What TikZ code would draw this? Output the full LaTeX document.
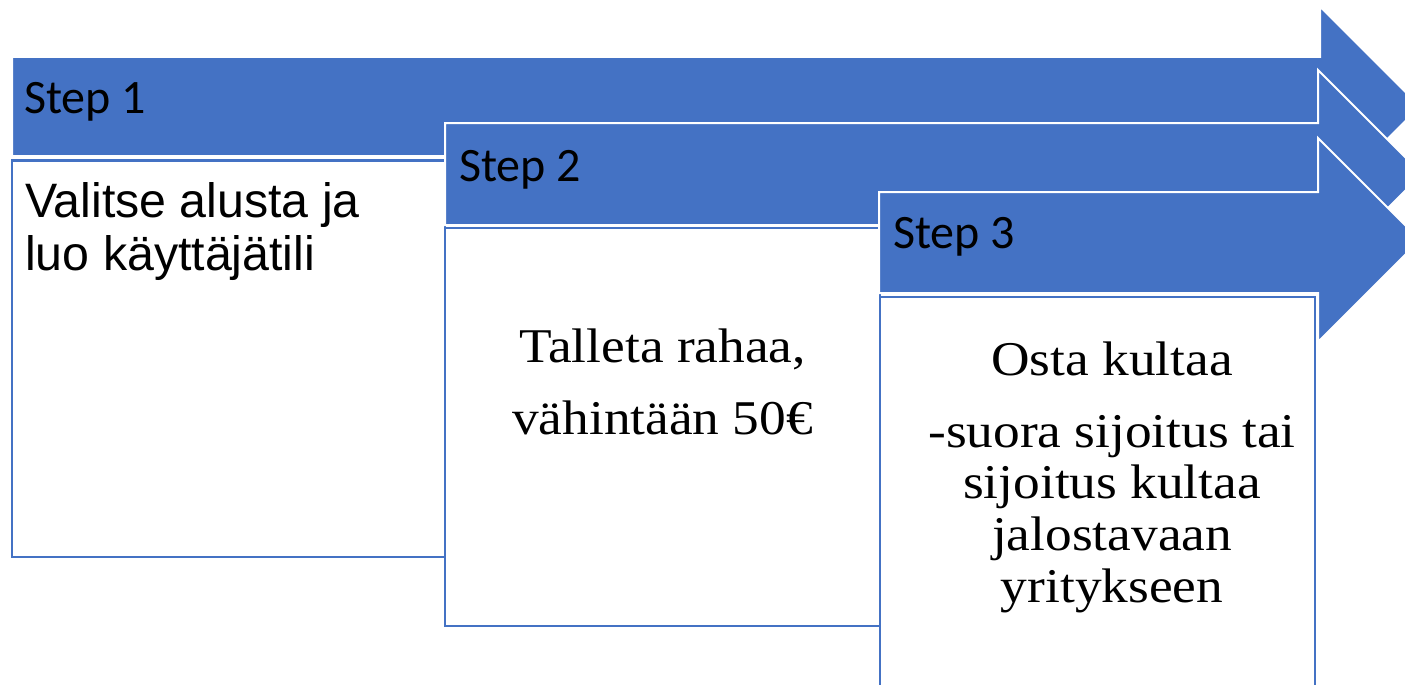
\documentclass[tikz,border=0pt]{standalone}
\usepackage{fontspec}
\setmainfont{Liberation Serif}
\newfontfamily\calibfont{Carlito}
\newfontfamily\arialfont{Liberation Sans}
\newfontfamily\georgfont[FakeStretch=1.1]{Liberation Serif}
\definecolor{offblue}{HTML}{4472C4}
\begin{document}
\begin{tikzpicture}[x=1pt,y=-1pt,
  arrowshape/.style={fill=offblue, draw=white, line width=2pt, line join=miter},
  boxshape/.style={fill=white, draw=offblue, line width=2.8pt},
  steplabel/.style={font=\calibfont\fontsize{48}{56}\selectfont, anchor=base west, inner sep=0pt, text=black},
  sanstext/.style={font=\arialfont\fontsize{48.3}{53}\selectfont, anchor=base west, inner sep=0pt, text=black},
  seriftext/.style={font=\georgfont\fontsize{48.5}{52}\selectfont, anchor=base, inner sep=0pt, text=black}]
\useasboundingbox (0,0) rectangle (1405,685);
\clip (0,0) rectangle (1405,685);
% arrow 1 and box 1
\path[arrowshape] (12,57) -- (1320,57) -- (1320,6.5) -- (1420,106.5) -- (1320,206.5) -- (1320,156) -- (12,156) -- cycle;
\path[boxshape] (12,160.5) rectangle (445,557);
% arrow 2 and box 2
\path[arrowshape] (445,123) -- (1318,123) -- (1318,70) -- (1422,174) -- (1318,278) -- (1318,225) -- (445,225) -- cycle;
\path[boxshape] (445,228) rectangle (880,626);
% arrow 3 and box 3
\path[arrowshape] (879,192) -- (1318,192) -- (1318,138) -- (1420,240) -- (1318,342) -- (1318,293) -- (879,293) -- cycle;
\path[boxshape] (880,297) rectangle (1315,694);
% labels
\node[steplabel] (s1) at (24,113) {Step 1};
\node[steplabel] (s2) at (459,181) {Step 2};
\node[steplabel] (s3) at (893,248) {Step 3};
\node[sanstext] (a1) at (25,217) {Valitse alusta ja};
\node[sanstext] (a2) at (25,270) {luo käyttäjätili};
\node[seriftext] (b1) at (662.5,362) {Talleta rahaa,};
\node[seriftext] (b2) at (662.5,434) {vähintään 50€};
\node[seriftext] (c1) at (1112,375) {Osta kultaa};
\node[seriftext] (c2) at (1112,447) {-suora sijoitus tai};
\node[seriftext] (c3) at (1112,498) {sijoitus kultaa};
\node[seriftext] (c4) at (1112,550) {jalostavaan};
\node[seriftext] (c5) at (1112,602) {yritykseen};
\end{tikzpicture}
\end{document}
